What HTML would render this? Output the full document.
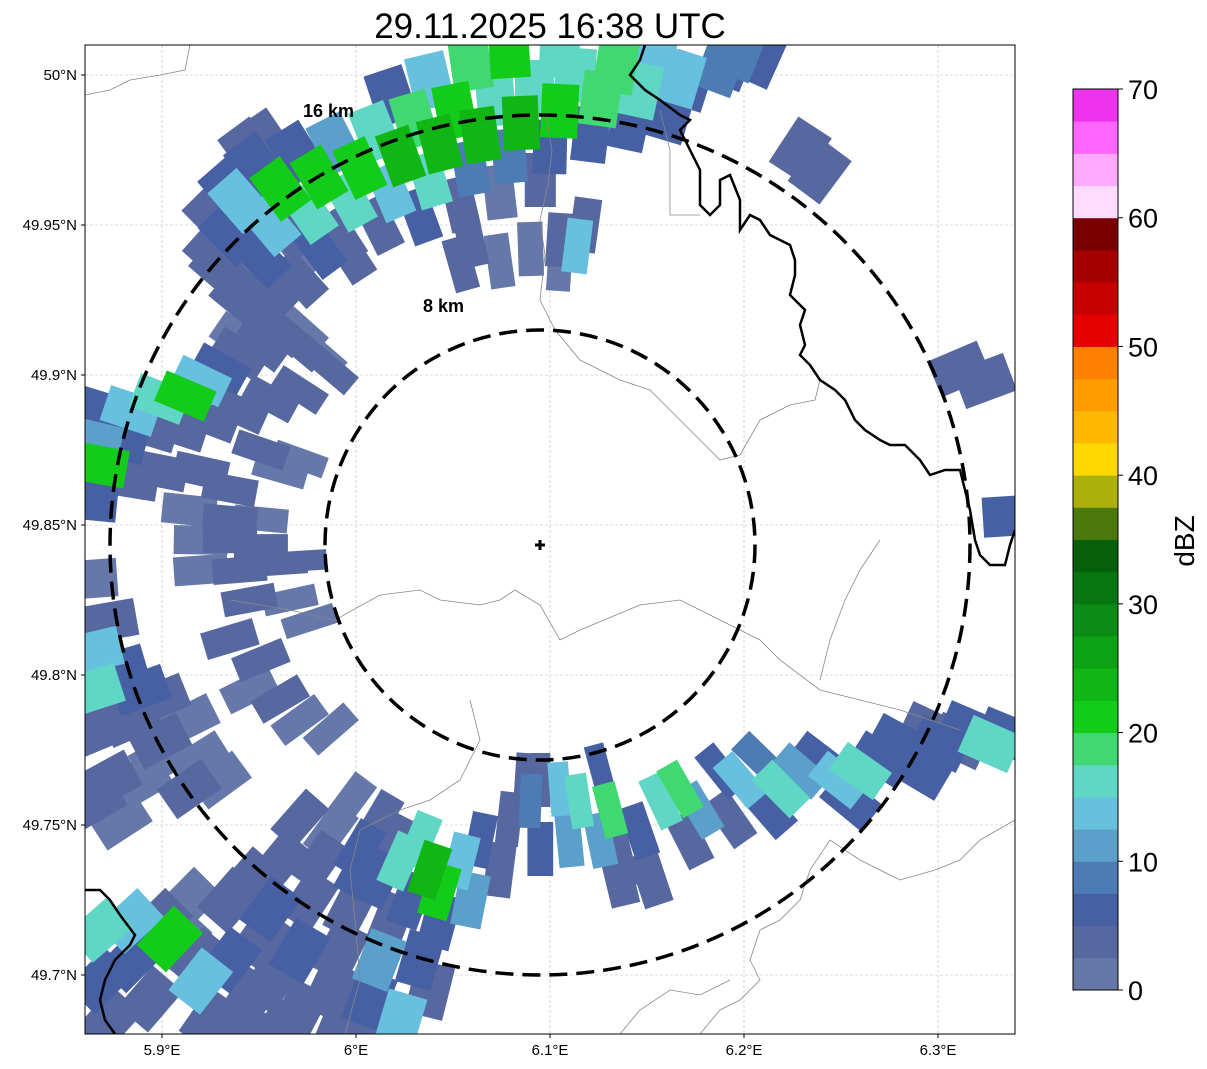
<!DOCTYPE html>
<html><head><meta charset="utf-8"><style>
body{margin:0;background:#fff;}
svg{display:block;font-family:"Liberation Sans",sans-serif;}
</style></head><body>
<svg id="chart" width="1207" height="1069" viewBox="0 0 1207 1069" xmlns="http://www.w3.org/2000/svg">
<defs><clipPath id="mapclip"><rect x="85" y="45" width="930" height="989"/></clipPath></defs>
<text x="550" y="38" text-anchor="middle" font-size="35">29.11.2025 16:38 UTC</text>
<rect x="85" y="45" width="930" height="989" fill="#fff"/>
<g id="grid"></g>
<g clip-path="url(#mapclip)">
<g id="cells"></g>
<g fill="none" stroke="#888" stroke-width="0.8">
<polyline points="85,95 110,90 130,80 160,75 185,70 190,45"/>
<polyline points="545,110 552,150 548,185 540,220 545,255 540,300 555,330 580,360 620,380 650,390 680,420 700,440 720,460 740,455 760,420 790,405 815,400 820,380"/>
<polyline points="230,600 290,610 335,620 380,595 420,590 440,600 480,605 500,600 515,590 540,605 560,640 580,630 640,605 680,600 720,620 760,640 780,660 820,690 860,700 900,710 930,720 960,730"/>
<polyline points="470,700 480,740 460,780 430,800 400,810 360,830 350,870 355,920 360,980 345,1034"/>
<polyline points="1015,820 980,840 960,860 935,870 900,880 860,860 830,840 810,870 800,900 780,920 760,930 750,960 760,980 740,1000 720,1010 700,1034"/>
<polyline points="620,1034 640,1010 670,990 700,995 730,980"/>
<polyline points="880,540 860,570 845,600 830,640 820,680"/>
<polyline points="660,110 670,150 670,215 700,215"/>
</g>
<g fill="none" stroke="#000" stroke-width="2.5">
<polyline points="645,45 640,60 630,75 645,90 660,100 680,115 690,120 680,130 690,150 700,170 700,205 710,215 720,205 720,180 730,175 740,200 740,230 750,215 760,220 770,235 790,245 795,260 795,275 790,295 805,310 800,325 805,345 800,355 810,365 820,380 835,390 845,400 855,420 865,430 880,440 890,445 905,445 920,460 930,475 945,470 960,470 965,490 970,510 975,540 980,555 990,565 1005,565 1010,545 1015,530"/>
<polyline points="85,890 100,890 110,900 120,915 135,935 130,945 115,960 105,980 100,1000 105,1020 115,1034"/>
</g>
<g fill="none" stroke="#000" stroke-width="3.5" stroke-dasharray="18,9">
<circle cx="540" cy="545" r="215"/>
<circle cx="540" cy="545" r="430"/>
</g>
<text x="303" y="117" font-size="18" font-weight="bold">16 km</text>
<text x="423" y="312" font-size="18" font-weight="bold">8 km</text>
<path d="M535,545 H545 M540,540 V550" stroke="#000" stroke-width="3"/>
</g>
<rect x="85" y="45" width="930" height="989" fill="none" stroke="#000" stroke-width="1"/>
<g id="axes" font-size="15"></g>
<g id="cbar"></g>
<text transform="translate(1194,541) rotate(-90)" text-anchor="middle" font-size="28">dBZ</text>
</svg>
<script>
const cellLon=[5.940,5.961,5.981,6.002,6.023,6.043,6.064,6.085,6.105,6.126,6.146,6.167,6.188,6.208,
5.935,5.956,5.976,5.997,6.018,6.038,6.059,6.079,6.100,6.121,6.141,6.162,
5.930,5.951,5.971,5.992,6.012,6.033,6.054,6.074,6.095,
5.948,5.969,5.989,6.010,6.030,6.051,6.072,6.092,6.113,6.134,6.154,
6.018,6.038,6.059,6.079,6.105,6.198,6.152,6.172,6.193,
5.927,5.927,5.945,5.966,5.940,5.956,5.971,5.981,5.997,5.971,5.940,6.059,6.074,6.054,6.090,6.105,6.118,6.114,6.105,5.935,5.945,5.953,
5.868,5.884,5.899,5.912,5.920,5.930,5.940,5.951,5.961,5.971,5.981,5.865,5.868,5.878,5.894,5.909,5.925,5.940,5.956,5.971,5.987,5.951,5.961,5.971,5.863,5.884,5.899,5.920,5.935,5.914,
5.920,5.935,5.951,5.961,5.940,5.971,5.945,5.966,5.976,5.935,5.951,5.920,5.863,
5.865,5.865,5.873,5.878,5.889,5.868,5.884,5.899,5.899,5.914,5.920,5.935,5.951,5.945,5.961,5.971,5.987,5.873,5.889,5.865,5.878,5.899,5.914,5.930,
5.971,5.987,5.961,5.981,6.002,5.945,5.935,5.956,5.976,5.997,6.018,5.951,5.971,5.992,6.012,6.033,6.038,5.987,6.007,6.023,5.971,5.945,5.925,5.956,5.920,5.935,5.909,5.899,5.914,5.884,5.904,5.920,5.868,5.868,5.873,5.894,5.884,6.007,5.992,5.940,5.961,
6.023,6.038,6.043,6.033,6.054,6.059,6.043,6.028,6.012,6.064,6.074,6.018,6.002,5.997,6.012,
6.079,6.090,6.105,6.115,6.131,6.126,6.110,6.095,6.136,6.146,6.157,6.167,6.177,6.188,6.198,6.208,6.219,6.229,6.239,6.249,6.260,6.270,6.280,6.291,6.301,6.311,6.327,6.335,6.193,6.213,6.152,6.136,6.126,6.095,6.172,6.255,6.296,6.316,6.087,
6.229,6.239,6.311,6.324,6.337];
const cellLat=[49.958,49.962,49.966,49.969,49.973,49.977,49.980,49.984,49.988,49.992,49.995,49.999,50.003,50.006,
49.947,49.950,49.954,49.958,49.961,49.965,49.969,49.973,49.976,49.980,49.984,49.987,
49.935,49.939,49.942,49.946,49.950,49.953,49.957,49.961,49.965,
49.970,49.974,49.977,49.981,49.985,49.988,49.992,49.996,50.000,50.003,50.007,
49.993,49.998,50.004,50.008,50.008,50.008,49.993,49.998,50.005,
49.953,49.940,49.942,49.948,49.925,49.928,49.932,49.942,49.940,49.915,49.912,49.945,49.938,49.937,49.942,49.945,49.950,49.943,49.937,49.962,49.975,49.978,
49.888,49.888,49.892,49.893,49.898,49.902,49.907,49.910,49.915,49.910,49.907,49.878,49.870,49.878,49.882,49.882,49.885,49.888,49.892,49.895,49.902,49.875,49.868,49.872,49.858,49.865,49.868,49.868,49.862,49.855,
49.845,49.845,49.843,49.837,49.835,49.838,49.825,49.825,49.818,49.852,49.852,49.835,49.832,
49.808,49.795,49.818,49.802,49.795,49.782,49.785,49.792,49.778,49.785,49.772,49.812,49.805,49.795,49.792,49.785,49.782,49.765,49.765,49.758,49.752,49.772,49.762,49.765,
49.752,49.748,49.738,49.738,49.735,49.732,49.725,49.722,49.725,49.722,49.718,49.712,49.708,49.708,49.705,49.705,49.695,49.695,49.692,49.685,49.688,49.692,49.685,49.698,49.705,49.705,49.712,49.718,49.725,49.718,49.712,49.698,49.715,49.698,49.685,49.692,49.705,49.685,49.683,49.682,49.682,
49.738,49.735,49.728,49.745,49.738,49.725,49.718,49.725,49.732,49.745,49.735,49.745,49.742,49.758,49.752,
49.752,49.758,49.762,49.758,49.755,49.745,49.745,49.742,49.738,49.748,49.758,49.762,49.755,49.768,49.765,49.772,49.762,49.768,49.772,49.765,49.768,49.772,49.778,49.768,49.777,49.778,49.777,49.780,49.752,49.755,49.732,49.732,49.768,49.765,49.745,49.758,49.782,49.782,49.765,
49.975,49.968,49.902,49.898,49.853];
const cellDbz=[14,21,22,22,23,24,24,23,21,19,16,14,9,6,
6,13,15,16,14,17,8,9,7,5,6,5,
3,5,2,4,3,6,3,2,3,
5,6,12,16,18,22,17,15,17,18,13,
6,13,18,21,17,8,5,5,6,
4,3,2,3,3,4,3,5,3,2,2,3,2,3,2,3,3,13,2,5,3,3,
6,13,17,21,13,6,3,4,3,3,2,12,20,5,4,3,4,3,4,3,3,3,2,2,5,3,3,3,3,2,
2,3,4,3,4,3,3,2,2,3,2,2,2,
13,15,4,6,5,4,3,3,3,2,2,3,3,2,3,2,2,3,2,3,2,2,3,2,
3,2,3,4,5,3,4,5,3,4,3,3,5,4,12,5,4,3,5,13,3,3,3,4,3,5,2,3,2,14,21,14,16,6,3,4,5,4,3,3,4,
15,24,21,17,13,11,5,6,5,5,4,3,5,2,3,
4,8,13,15,19,12,11,6,4,6,17,19,12,6,13,9,16,11,5,13,15,7,5,6,6,4,15,6,4,5,4,3,5,3,4,7,4,5,3,
4,4,4,4,5];
const cbColors=["#6677a9","#56689f","#4660a3","#4d7bb4","#5b9fcb","#66c0de","#60d6c4","#40d870","#12cc19","#10b614","#0ca215","#0b8c14","#087610","#06600a","#4a780a","#adb00a","#ffd800","#ffb800","#ff9c00","#ff7f00","#e60000","#c60000","#a40000","#7a0000","#ffdcff","#ffaaff","#ff66ff","#ee33ee"];
const lonTicks=[5.9,6.0,6.1,6.2,6.3];
const lonLabels=["5.9°E","6°E","6.1°E","6.2°E","6.3°E"];
const latTicks=[50.0,49.95,49.9,49.85,49.8,49.75,49.7];
const latLabels=["50°N","49.95°N","49.9°N","49.85°N","49.8°N","49.75°N","49.7°N"];
const cbTicks=[0,10,20,30,40,50,60,70];

const NS="http://www.w3.org/2000/svg";
const X=lon=>162+(lon-5.9)*1940;
const Y=lat=>75+(50-lat)*3000;
const CX=X(6.095), CY=Y(49.843);
function mk(tag,attrs,parent){const e=document.createElementNS(NS,tag);for(const k in attrs)e.setAttribute(k,attrs[k]);parent.appendChild(e);return e;}

const grid=document.getElementById('grid');
lonTicks.forEach(v=>{const l=mk('line',{x1:X(v),x2:X(v),y1:45,y2:1034,stroke:'#bbb','stroke-width':0.6,'stroke-dasharray':'3,2'},grid);

});
latTicks.forEach(v=>{const l=mk('line',{x1:85,x2:1015,y1:Y(v),y2:Y(v),stroke:'#bbb','stroke-width':0.6,'stroke-dasharray':'3,2'},grid);

});

const cells=document.getElementById('cells');
const order=cellDbz.map((v,i)=>i).sort((a,b)=>cellDbz[a]-cellDbz[b]);
order.forEach(i=>{
  const px=X(cellLon[i]), py=Y(cellLat[i]);
  const dx=px-CX, dy=py-CY;
  const az=Math.atan2(dx,-dy)*180/Math.PI;
  const r=Math.hypot(dx,dy);
  const w=Math.min(40,Math.max(20,r*0.085));
  const idx=Math.max(0,Math.min(27,Math.floor(cellDbz[i]/2.5)));
  const g=mk('rect',{x:-w/2,y:-27,width:w,height:54,fill:cbColors[idx],transform:`translate(${px.toFixed(1)},${py.toFixed(1)}) rotate(${az.toFixed(1)})`},cells);
  
  
});

const axes=document.getElementById('axes');
lonTicks.forEach((v,i)=>{
  mk('line',{x1:X(v),x2:X(v),y1:1034,y2:1038,stroke:'#000'},axes);
  const t=mk('text',{x:X(v),y:1055,'text-anchor':'middle'},axes);t.textContent=lonLabels[i];
  
  
});
latTicks.forEach((v,i)=>{
  mk('line',{x1:81,x2:85,y1:Y(v),y2:Y(v),stroke:'#000'},axes);
  const t=mk('text',{x:77,y:Y(v)+5,'text-anchor':'end'},axes);t.textContent=latLabels[i];
  
  
});

const cb=document.getElementById('cbar');
const cbTop=89,cbBot=990,cbX=1073,cbW=45;
const segH=(cbBot-cbTop)/cbColors.length;
cbColors.forEach((c,i)=>{
  const r=mk('rect',{x:cbX,y:cbBot-(i+1)*segH,width:cbW,height:segH+0.5,fill:c},cb);
  
  
});
mk('rect',{x:cbX,y:cbTop,width:cbW,height:cbBot-cbTop,fill:'none',stroke:'#000','stroke-width':1},cb);
cbTicks.forEach(v=>{
  const y=cbBot-(v/70)*(cbBot-cbTop);
  mk('line',{x1:cbX+cbW,x2:cbX+cbW+5,y1:y,y2:y,stroke:'#000'},cb);
  const t=mk('text',{x:1128,y:y+10,'font-size':27},cb);t.textContent=v;
  
  
});
</script>
</body></html>
